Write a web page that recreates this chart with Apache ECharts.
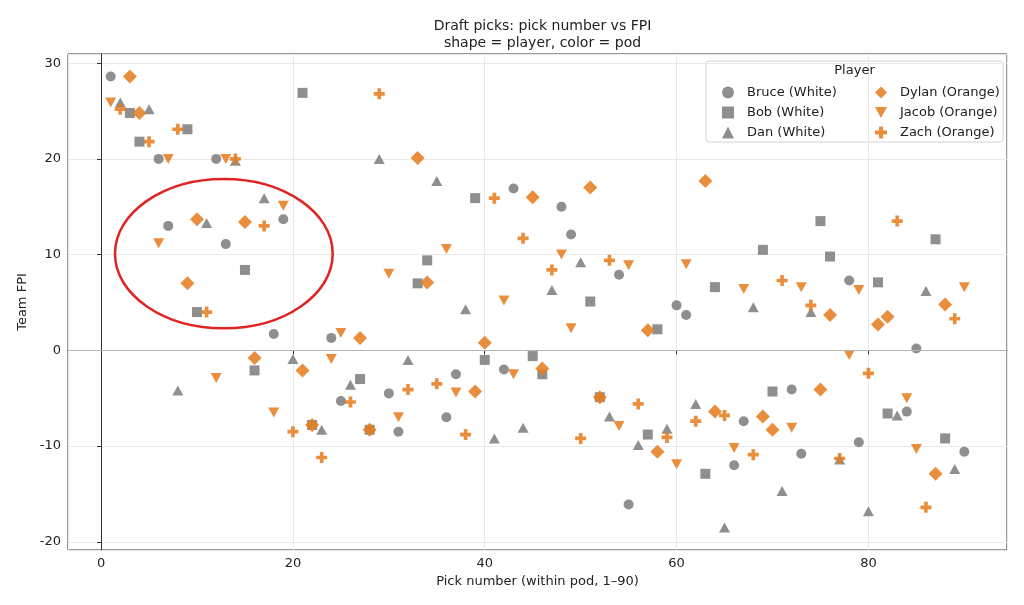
<!DOCTYPE html>
<html lang="en">
<head>
    <meta charset="UTF-8">
    <title>Draft picks: pick number vs FPI</title>
    <style>
        html, body {
            margin: 0;
            padding: 0;
            background: #ffffff;
        }
        #main {
            width: 1024px;
            height: 605px;
        }
    </style>
    <script type="text/javascript" src="https://cdn.jsdelivr.net/npm/echarts@6/dist/echarts.min.js"></script>
</head>
<body>
<div id="main"></div>
<script type="text/javascript">
    // White pod
    var brucePick = [1, 6, 7, 12, 13, 18, 19, 24, 25, 30, 31, 36, 37, 42, 43, 48, 49, 54, 55, 60, 61, 66, 67, 72, 73, 78, 79, 84, 85, 90];
    var bruceFpi = [28.6, 20.0, 13.0, 20.0, 11.1, 1.7, 13.7, 1.3, -5.3, -4.5, -8.5, -7.0, -2.5, -2.0, 16.9, 15.0, 12.1, 7.9, -16.1, 4.7, 3.7, -12.0, -7.4, -4.1, -10.8, 7.3, -9.6, -6.4, 0.2, -10.6];
    var bobPick = [3, 4, 9, 10, 15, 16, 21, 22, 27, 28, 33, 34, 39, 40, 45, 46, 51, 52, 57, 58, 63, 64, 69, 70, 75, 76, 81, 82, 87, 88];
    var bobFpi = [24.8, 21.8, 23.1, 4.0, 8.4, -2.1, 26.9, -7.8, -3.0, -8.3, 7.0, 9.4, 15.9, -1.0, -0.6, -2.5, 5.1, -4.9, -8.8, 2.2, -12.9, 6.6, 10.5, -4.3, 13.5, 9.8, 7.1, -6.6, 11.6, -9.2];
    var danPick = [2, 5, 8, 11, 14, 17, 20, 23, 26, 29, 32, 35, 38, 41, 44, 47, 50, 53, 56, 59, 62, 65, 68, 71, 74, 77, 80, 83, 86, 89];
    var danFpi = [25.9, 25.2, -4.2, 13.3, 19.8, 15.9, -0.9, -8.3, -3.6, 20.0, -1.0, 17.7, 4.3, -9.2, -8.1, 6.3, 9.2, -6.9, -9.9, -8.2, -5.6, -18.5, 4.5, -14.7, 4.0, -11.4, -16.8, -6.8, 6.2, -12.4];
    // Orange pod
    var dylanPick = [3, 4, 9, 10, 15, 16, 21, 22, 27, 28, 33, 34, 39, 40, 45, 46, 51, 52, 57, 58, 63, 64, 69, 70, 75, 76, 81, 82, 87, 88];
    var dylanFpi = [28.6, 24.8, 7.0, 13.7, 13.4, -0.8, -2.1, -7.8, 1.3, -8.3, 20.1, 7.1, -4.3, 0.8, 16.0, -1.9, 17.0, -4.9, 2.1, -10.6, 17.7, -6.4, -6.9, -8.3, -4.1, 3.7, 2.7, 3.5, -12.9, 4.8];
    var jacobPick = [1, 6, 7, 12, 13, 18, 19, 24, 25, 30, 31, 36, 37, 42, 43, 48, 49, 54, 55, 60, 61, 66, 67, 72, 73, 78, 79, 84, 85, 90];
    var jacobFpi = [25.9, 11.2, 20.0, -2.9, 20.0, -6.5, 15.1, -0.9, 1.8, 8.0, -7.0, 10.6, -4.4, 5.2, -2.5, 10.0, 2.3, -7.9, 8.9, -11.9, 9.0, -10.2, 6.4, -8.1, 6.6, -0.5, 6.3, -5.0, -10.3, 6.6];
    var zachPick = [2, 5, 8, 11, 14, 17, 20, 23, 26, 29, 32, 35, 38, 41, 44, 47, 50, 53, 56, 59, 62, 65, 68, 71, 74, 77, 80, 83, 86, 89];
    var zachFpi = [25.2, 21.8, 23.1, 4.0, 20.0, 13.0, -8.5, -11.2, -5.4, 26.8, -4.1, -3.5, -8.8, 15.9, 11.7, 8.4, -9.2, 9.4, -5.6, -9.1, -7.4, -6.8, -10.9, 7.3, 4.7, -11.3, -2.4, 13.5, -16.4, 3.3];

    var leftNames = ["Bruce (White)", "Bob (White)", "Dan (White)"];
    var rightNames = ["Dylan (Orange)", "Jacob (Orange)", "Zach (Orange)"];

    // circled region, data units: center x, center y, half width, half height
    var highlight = {cx: 12.8, cy: 10.1, rx: 11.35, ry: 7.8};

    var GRAY = '#808080';
    var ORANGE = '#e67e22';
    var FONT = 'DejaVu Sans';
    var PLUS = 'path://M1,0H2V1H3V2H2V3H1V2H0V1H1Z';
    var DOWN = 'path://M0,0H2L1,1.8Z';

    function zip(xs, ys) {
        var out = [];
        for (var i = 0; i < xs.length; i++) out.push([xs[i], ys[i]]);
        return out;
    }

    function scatter(name, picks, fpi, color, symbol, size) {
        return {
            name: name,
            type: 'scatter',
            data: zip(picks, fpi),
            symbol: symbol,
            symbolSize: size,
            itemStyle: {color: color, opacity: 0.88},
            emphasis: {disabled: true}
        };
    }

    var chart = echarts.init(document.getElementById('main'), null, {renderer: 'canvas'});

    var series = [
        scatter(leftNames[0], brucePick, bruceFpi, GRAY, 'circle', 10),
        scatter(leftNames[1], bobPick, bobFpi, GRAY, 'rect', 10),
        scatter(leftNames[2], danPick, danFpi, GRAY, 'triangle', [11, 10]),
        scatter(rightNames[0], dylanPick, dylanFpi, ORANGE, 'diamond', 14),
        scatter(rightNames[1], jacobPick, jacobFpi, ORANGE, DOWN, [11, 10]),
        scatter(rightNames[2], zachPick, zachFpi, ORANGE, PLUS, 11)
    ];
    series[0].markLine = {
        silent: true,
        symbol: 'none',
        label: {show: false},
        lineStyle: {color: '#b5b5b5', width: 1, type: 'solid'},
        data: [{yAxis: 0}]
    };

    function legendItems(names, icons) {
        return names.map(function (n, i) {
            return {name: n, icon: icons[i], itemStyle: {opacity: 0.88}};
        });
    }

    var legendBase = {
        orient: 'vertical',
        itemWidth: 12,
        itemHeight: 12,
        itemGap: 7,
        selectedMode: false,
        textStyle: {fontFamily: FONT, fontSize: 13, color: '#222', padding: [0, 0, 0, 8]}
    };

    var option = {
        animation: false,
        backgroundColor: '#ffffff',
        title: {
            text: 'Draft picks: pick number vs FPI\nshape = player, color = pod',
            left: 537.5,
            top: 13,
            textAlign: 'center',
            textStyle: {fontFamily: FONT, fontSize: 14, fontWeight: 'normal', color: '#222', lineHeight: 17}
        },
        grid: {
            left: 68, right: 17, top: 54, bottom: 55,
            show: true, borderColor: '#333', borderWidth: 1
        },
        legend: [
            Object.assign({}, legendBase, {
                left: 717, top: 81,
                data: legendItems(leftNames, ['circle', 'rect', 'triangle'])
            }),
            Object.assign({}, legendBase, {
                left: 870, top: 81,
                data: legendItems(rightNames, ['diamond', DOWN, PLUS])
            })
        ],
        xAxis: {
            type: 'value',
            min: -3.45,
            max: 94.45,
            name: 'Pick number (within pod, 1\u201390)',
            nameLocation: 'middle',
            nameGap: 24,
            nameTextStyle: {fontFamily: FONT, fontSize: 13, color: '#222'},
            axisLine: {show: true, lineStyle: {color: '#333'}},
            axisTick: {show: true, length: 4, lineStyle: {color: '#333'}},
            axisLabel: {fontFamily: FONT, fontSize: 13, color: '#222', margin: 7, showMinLabel: false, showMaxLabel: false},
            splitLine: {show: true, lineStyle: {color: '#e8e8e8'}}
        },
        yAxis: {
            type: 'value',
            min: -20.86,
            max: 30.96,
            name: 'Team FPI',
            nameLocation: 'middle',
            nameGap: 38,
            nameTextStyle: {fontFamily: FONT, fontSize: 13, color: '#222'},
            axisLine: {show: true, lineStyle: {color: '#333'}},
            axisTick: {show: true, length: 4, lineStyle: {color: '#333'}},
            axisLabel: {fontFamily: FONT, fontSize: 13, color: '#222', margin: 7, showMinLabel: false, showMaxLabel: false},
            splitLine: {show: true, lineStyle: {color: '#e8e8e8'}}
        },
        series: series
    };
    chart.setOption(option);

    // legend frame, legend title and the red ellipse go on top
    var c = chart.convertToPixel({gridIndex: 0}, [highlight.cx, highlight.cy]);
    var e = chart.convertToPixel({gridIndex: 0}, [highlight.cx + highlight.rx, highlight.cy + highlight.ry]);
    chart.setOption({
        graphic: [
            {
                type: 'rect', z: -1, silent: true,
                shape: {x: 706, y: 61, width: 297, height: 81, r: 3},
                style: {fill: 'rgba(255,255,255,0.85)', stroke: '#d3d3d3', lineWidth: 1}
            },
            {
                type: 'text', silent: true,
                x: 854.5, y: 71,
                style: {text: 'Player', fontFamily: FONT, fontSize: 13, fill: '#222', align: 'center', verticalAlign: 'middle'}
            },
            {
                type: 'ellipse', silent: true, z: 100,
                shape: {cx: c[0], cy: c[1], rx: e[0] - c[0], ry: c[1] - e[1]},
                style: {fill: 'none', stroke: '#e02424', lineWidth: 2.5}
            }
        ]
    });
</script>
</body>
</html>
